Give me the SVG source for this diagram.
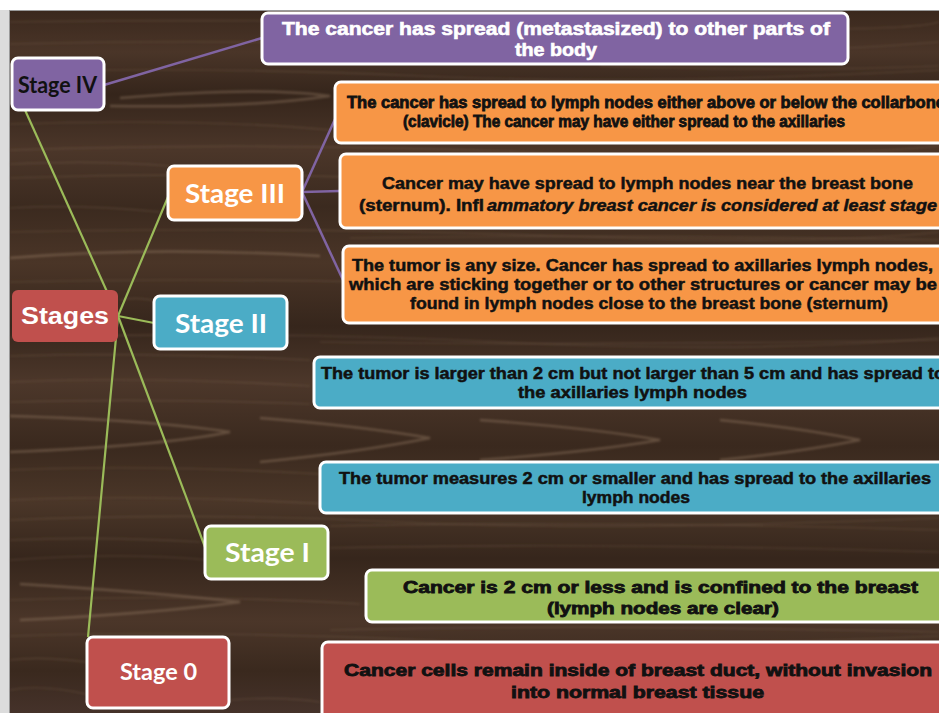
<svg xmlns="http://www.w3.org/2000/svg" width="939" height="713" viewBox="0 0 939 713">
<defs>
<linearGradient id="wood" x1="0" y1="0" x2="0" y2="1">
<stop offset="0" stop-color="#3a281d"/>
<stop offset="0.06" stop-color="#4a3528"/>
<stop offset="0.12" stop-color="#35251b"/>
<stop offset="0.2" stop-color="#4b3629"/>
<stop offset="0.28" stop-color="#3b2a1f"/>
<stop offset="0.36" stop-color="#4a3527"/>
<stop offset="0.45" stop-color="#36261c"/>
<stop offset="0.53" stop-color="#4c372a"/>
<stop offset="0.62" stop-color="#3a291e"/>
<stop offset="0.7" stop-color="#4a3628"/>
<stop offset="0.78" stop-color="#36261c"/>
<stop offset="0.87" stop-color="#4b3629"/>
<stop offset="0.94" stop-color="#3a291e"/>
<stop offset="1" stop-color="#45322a"/>
</linearGradient>
<filter id="soft" x="-5%" y="-20%" width="110%" height="140%">
<feGaussianBlur stdDeviation="0.9"/>
</filter>
<style>
.grain{fill:none;stroke:#8a705a;stroke-opacity:0.3;stroke-width:1.2}
.grain2{fill:none;stroke:#9a8068;stroke-opacity:0.4;stroke-width:2.4}
.box{stroke:#ffffff;stroke-width:3}
.pur{fill:#8064a2}
.org{fill:#f79646}
.blu{fill:#4bacc6}
.grn{fill:#9bbb59}
.red{fill:#c0504d}
.gl{stroke:#9bbb59;stroke-width:2.2;fill:none}
.pl{stroke:#8064a2;stroke-width:2.5;fill:none}
.wide{font-family:"Liberation Sans",Arial,sans-serif;font-weight:bold;font-size:16px;fill:#111;stroke:#111;stroke-width:0.8}
.nar{font-family:"Liberation Sans",Arial,sans-serif;font-weight:bold;font-size:16px;fill:#111;stroke:#111;stroke-width:0.5}
.top{font-family:"Liberation Sans",Arial,sans-serif;font-weight:bold;font-size:17.5px;fill:#ffffff;stroke:#ffffff;stroke-width:0.6}
.stg{font-family:Lato,"Open Sans",sans-serif;font-weight:bold;fill:#ffffff}
</style>
</defs>
<rect x="0" y="0" width="939" height="713" fill="#ffffff"/>
<rect x="0" y="10" width="10" height="703" fill="#dcdcdc"/>
<rect x="10" y="10" width="929" height="703" fill="url(#wood)"/>
<line x1="10" y1="10.5" x2="939" y2="10.5" stroke="#9a9a9a" stroke-width="1"/>
<line x1="9.5" y1="10" x2="9.5" y2="713" stroke="#9a9a9a" stroke-width="1"/>
<g id="woodgrain" filter="url(#soft)">
<path class="grain" d="M10 22 Q 300 18 600 26 T 939 22"/>
<path class="grain" d="M10 44 Q 250 38 500 48 T 939 42"/>
<path class="grain" d="M10 72 Q 200 66 420 76 T 939 70"/>
<path class="grain2" d="M120 98 Q 260 86 330 96 Q 250 108 110 106"/>
<path class="grain" d="M10 124 Q 200 118 330 130"/>
<path class="grain" d="M10 150 Q 260 142 520 152 T 939 146"/>
<path class="grain" d="M10 164 Q 100 160 170 166"/>
<path class="grain" d="M10 178 Q 240 170 470 182 T 939 176"/>
<path class="grain" d="M10 208 Q 80 204 160 212"/>
<path class="grain" d="M10 232 Q 300 226 560 236 T 939 232"/>
<path class="grain2" d="M10 258 Q 150 246 320 256"/>
<path class="grain" d="M10 282 Q 280 276 560 288 T 939 284"/>
<path class="grain" d="M120 300 Q 140 296 160 302"/>
<path class="grain" d="M10 338 Q 250 330 500 342 T 939 338"/>
<path class="grain" d="M10 356 Q 150 352 310 360"/>
<path class="grain" d="M10 382 Q 150 376 310 386"/>
<path class="grain" d="M10 402 Q 150 398 310 404"/>
<path class="grain2" d="M10 416 Q 150 420 230 432 Q 160 446 10 452"/>
<path class="grain2" d="M260 418 Q 360 426 430 438 Q 360 452 260 462"/>
<path class="grain2" d="M480 420 Q 590 428 660 440 Q 590 452 480 460"/>
<path class="grain2" d="M720 420 Q 800 428 860 440 Q 800 452 720 460"/>
<path class="grain" d="M10 470 Q 150 464 320 474"/>
<path class="grain" d="M10 500 Q 150 494 330 504"/>
<path class="grain" d="M10 520 Q 200 512 400 522 T 939 518"/>
<path class="grain" d="M10 540 Q 100 536 200 542"/>
<path class="grain" d="M10 560 Q 120 552 210 560"/>
<path class="grain2" d="M20 584 Q 150 592 240 602 Q 150 614 20 620"/>
<path class="grain" d="M10 600 Q 200 594 360 604"/>
<path class="grain" d="M10 636 Q 200 630 420 640 T 939 636"/>
<path class="grain" d="M10 660 Q 40 656 86 662"/>
<path class="grain" d="M10 690 Q 40 684 86 694"/>
<path class="grain" d="M230 700 Q 280 696 320 702"/>
<path class="grain" d="M330 630 Q 600 624 939 632"/>
<path class="grain" d="M330 526 Q 600 520 939 530"/>
<path class="grain" d="M330 548 Q 600 542 939 552"/>
<path class="grain" d="M320 342 Q 600 346 939 340"/>
<path class="grain" d="M350 238 Q 600 234 939 240"/>
<path class="grain" d="M600 66 Q 800 72 939 66"/>
</g>
<g id="connectors">
<line class="gl" x1="25" y1="110" x2="118" y2="316"/>
<line class="gl" x1="118" y1="316" x2="168" y2="197"/>
<line class="gl" x1="118" y1="316" x2="154" y2="323"/>
<line class="gl" x1="118" y1="316" x2="205" y2="547"/>
<line class="gl" x1="118" y1="316" x2="88" y2="637"/>
<line class="pl" x1="104" y1="85" x2="262" y2="38"/>
<line class="pl" x1="302" y1="192" x2="336" y2="117"/>
<line class="pl" x1="302" y1="192" x2="340" y2="191"/>
<line class="pl" x1="302" y1="192" x2="343" y2="280"/>
</g>
<g id="stage4">
<rect class="box pur" x="12" y="58" width="92" height="52" rx="6"/>
<text x="18" y="93" textLength="79" lengthAdjust="spacingAndGlyphs" style="font-family:Lato,'Open Sans',sans-serif;font-weight:bold;font-size:22px;fill:#111">Stage IV</text>
</g>
<g id="stage4-desc">
<rect class="box pur" x="262" y="13" width="586" height="51" rx="6"/>
<text class="top" x="282" y="35" textLength="548" lengthAdjust="spacingAndGlyphs">The cancer has spread (metastasized) to other parts of</text>
<text class="top" x="515" y="56" textLength="82" lengthAdjust="spacingAndGlyphs">the body</text>
</g>
<g id="stages">
<rect class="red" x="12" y="290" width="106" height="52" rx="6"/>
<text x="21" y="324" textLength="88" lengthAdjust="spacingAndGlyphs" style="font-family:'Liberation Sans',Arial,sans-serif;font-weight:bold;font-size:23px;fill:#fff">Stages</text>
</g>
<g id="stage3">
<rect class="box org" x="168" y="166" width="134" height="54" rx="6"/>
<text class="stg" x="185" y="203" font-size="27" textLength="100" lengthAdjust="spacingAndGlyphs">Stage III</text>
</g>
<g id="stage3-a">
<rect class="box org" x="335" y="82" width="625" height="61" rx="6"/>
<text class="wide" x="347" y="108" textLength="598" lengthAdjust="spacingAndGlyphs">The cancer has spread to lymph nodes either above or below the collarbone</text>
<text class="wide" x="403" y="127" textLength="442" lengthAdjust="spacingAndGlyphs">(clavicle) The cancer may have either spread to the axillaries</text>
</g>
<g id="stage3-b">
<rect class="box org" x="340" y="154" width="620" height="74" rx="6"/>
<text class="nar" x="382" y="189" textLength="531" lengthAdjust="spacingAndGlyphs">Cancer may have spread to lymph nodes near the breast bone</text>
<text class="nar" x="359" y="211" textLength="125" lengthAdjust="spacingAndGlyphs">(sternum). Infl</text>
<text class="nar" x="487" y="211" textLength="450" lengthAdjust="spacingAndGlyphs" font-style="italic">ammatory breast cancer is considered at least stage</text>
</g>
<g id="stage3-c">
<rect class="box org" x="343" y="246" width="617" height="77" rx="6"/>
<text class="nar" x="352" y="271" textLength="581" lengthAdjust="spacingAndGlyphs">The tumor is any size. Cancer has spread to axillaries lymph nodes,</text>
<text class="nar" x="349" y="290" textLength="588" lengthAdjust="spacingAndGlyphs">which are sticking together or to other structures or cancer may be</text>
<text class="nar" x="410" y="309" textLength="478" lengthAdjust="spacingAndGlyphs">found in lymph nodes close to the breast bone (sternum)</text>
</g>
<g id="stage2">
<rect class="box blu" x="154" y="296" width="133" height="53" rx="6"/>
<text class="stg" x="175" y="333" font-size="27" textLength="92" lengthAdjust="spacingAndGlyphs">Stage II</text>
</g>
<g id="stage2-a">
<rect class="box blu" x="314" y="357" width="646" height="51" rx="6"/>
<text class="nar" x="321" y="379" textLength="624" lengthAdjust="spacingAndGlyphs">The tumor is larger than 2 cm but not larger than 5 cm and has spread to</text>
<text class="nar" x="518" y="398" textLength="229" lengthAdjust="spacingAndGlyphs">the axillaries lymph nodes</text>
</g>
<g id="stage2-b">
<rect class="box blu" x="320" y="462" width="640" height="51" rx="6"/>
<text class="nar" x="339" y="484" textLength="592" lengthAdjust="spacingAndGlyphs">The tumor measures 2 cm or smaller and has spread to the axillaries</text>
<text class="nar" x="582" y="503" textLength="108" lengthAdjust="spacingAndGlyphs">lymph nodes</text>
</g>
<g id="stage1">
<rect class="box grn" x="205" y="526" width="123" height="53" rx="6"/>
<text class="stg" x="225" y="562" font-size="27" textLength="85" lengthAdjust="spacingAndGlyphs">Stage I</text>
</g>
<g id="stage1-a">
<rect class="box grn" x="366" y="570" width="594" height="52" rx="6"/>
<text class="wide" x="403" y="593" textLength="515" lengthAdjust="spacingAndGlyphs">Cancer is 2 cm or less and is confined to the breast</text>
<text class="wide" x="547" y="614" textLength="232" lengthAdjust="spacingAndGlyphs">(lymph nodes are clear)</text>
</g>
<g id="stage0">
<rect class="box red" x="87" y="637" width="142" height="71" rx="6"/>
<text class="stg" x="120" y="680" font-size="23" textLength="77" lengthAdjust="spacingAndGlyphs">Stage 0</text>
</g>
<g id="stage0-a">
<rect class="box red" x="322" y="642" width="638" height="80" rx="6"/>
<text class="wide" x="344" y="676" textLength="588" lengthAdjust="spacingAndGlyphs">Cancer cells remain inside of breast duct, without invasion</text>
<text class="wide" x="511" y="698" textLength="253" lengthAdjust="spacingAndGlyphs">into normal breast tissue</text>
</g>
</svg>
